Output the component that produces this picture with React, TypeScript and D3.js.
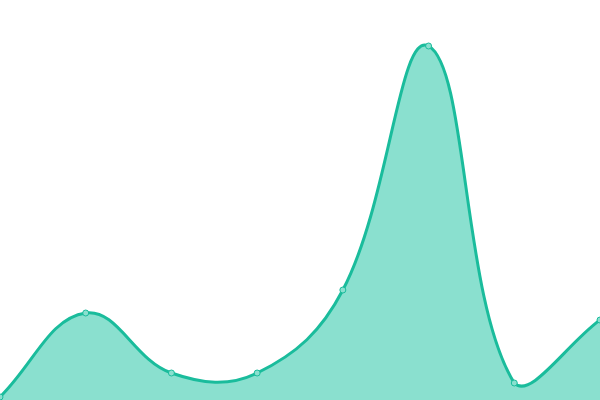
import React, { useEffect, useRef } from 'react';
import * as d3 from 'd3';

const labels = ['a', 'b', 'c', 'd', 'e', 'f', 'g', 'h'];
const values = [3, 87, 27, 27, 110, 354, 17, 80];

const W = 600;
const H = 400;
const TENSION = 0.4;

type Pt = [number, number];

// spline with distance-weighted control points, clamped to the plot box
function splinePath(pts: Pt[], closeTo?: number) {
  const clamp = (v: number, lo: number, hi: number) => Math.max(lo, Math.min(hi, v));
  const ctrl = pts.map((cur, i) => {
    const prev = pts[i - 1] || cur;
    const next = pts[i + 1] || cur;
    const d01 = Math.hypot(cur[0] - prev[0], cur[1] - prev[1]);
    const d12 = Math.hypot(next[0] - cur[0], next[1] - cur[1]);
    const s01 = d01 / (d01 + d12) || 0;
    const s12 = d12 / (d01 + d12) || 0;
    const fa = TENSION * s01;
    const fb = TENSION * s12;
    const dx = next[0] - prev[0];
    const dy = next[1] - prev[1];
    return {
      p: [clamp(cur[0] - fa * dx, 0, W), clamp(cur[1] - fa * dy, 0, H)] as Pt,
      n: [clamp(cur[0] + fb * dx, 0, W), clamp(cur[1] + fb * dy, 0, H)] as Pt,
    };
  });

  const path = d3.path();
  path.moveTo(pts[0][0], pts[0][1]);
  for (let i = 1; i < pts.length; i++) {
    const a = ctrl[i - 1].n;
    const b = ctrl[i].p;
    path.bezierCurveTo(a[0], a[1], b[0], b[1], pts[i][0], pts[i][1]);
  }
  if (closeTo !== undefined) {
    path.lineTo(pts[pts.length - 1][0], closeTo);
    path.lineTo(pts[0][0], closeTo);
    path.closePath();
  }
  return path.toString();
}

const App = () => {
  const svgRef = useRef<SVGSVGElement>(null);

  useEffect(() => {
    const svg = d3.select(svgRef.current);
    svg.selectAll('*').remove();

    const x = d3.scalePoint<string>().domain(labels).range([0, W]);
    const y = d3.scaleLinear().domain([0, 400]).range([H, 0]);

    const pts: Pt[] = values.map((v, i) => [x(labels[i])!, y(v)]);

    svg.append('path')
      .attr('d', splinePath(pts, y(0)))
      .attr('fill', '#8ae0cf');

    svg.append('path')
      .attr('d', splinePath(pts))
      .attr('fill', 'none')
      .attr('stroke', '#1abc9c')
      .attr('stroke-width', 3);

    svg.selectAll('circle')
      .data(pts)
      .enter()
      .append('circle')
      .attr('cx', d => d[0])
      .attr('cy', d => d[1])
      .attr('r', 3)
      .attr('fill', '#8ae0cf')
      .attr('stroke', '#1abc9c')
      .attr('stroke-width', 1);
  }, []);

  return (
    <svg
      ref={svgRef}
      width={W}
      height={H}
      style={{ position: 'absolute', left: 0, top: 0, background: '#fff' }}
    />
  );
};

export default App;
